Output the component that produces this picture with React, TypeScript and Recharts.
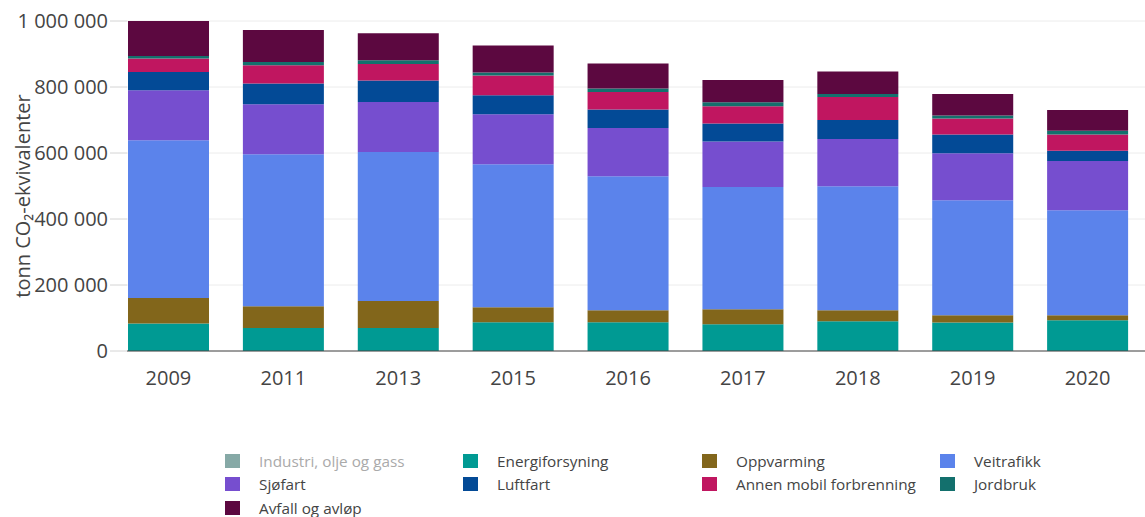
import { BarChart, Bar, XAxis, YAxis, CartesianGrid } from 'recharts'

const years = ['2009', '2011', '2013', '2015', '2016', '2017', '2018', '2019', '2020']

const energiforsyning = [83000, 69700, 69700, 87000, 87000, 81000, 90000, 86100, 93000]
const oppvarming = [77600, 65800, 81800, 45400, 36300, 45400, 33300, 22100, 15200]
const veitrafikk = [478000, 460500, 451500, 433400, 406100, 370600, 375700, 348500, 318200]
const sjofart = [151500, 151600, 151500, 151500, 146400, 137500, 143400, 142400, 149400]
const luftfart = [55500, 62700, 64900, 57500, 55700, 54600, 57600, 56700, 31200]
const annenMobil = [40500, 55500, 50300, 59700, 53300, 52400, 69700, 48400, 49400]
const jordbruk = [8000, 10000, 11300, 9100, 10400, 12100, 9100, 9100, 11200]
const avfall = [105900, 97000, 81700, 81900, 75700, 67600, 67900, 65500, 62700]

const yTicks = [0, 200000, 400000, 600000, 800000, 1000000]

// legend order (row by row), industri is toggled off in the original
const series = [
  { key: 'industri', name: 'Industri, olje og gass', color: '#86a9a6', hidden: true, values: [] as number[] },
  { key: 'energi', name: 'Energiforsyning', color: '#009a93', values: energiforsyning },
  { key: 'oppvarming', name: 'Oppvarming', color: '#82661b', values: oppvarming },
  { key: 'veitrafikk', name: 'Veitrafikk', color: '#5b83eb', values: veitrafikk },
  { key: 'sjofart', name: 'Sjøfart', color: '#764ecf', values: sjofart },
  { key: 'luftfart', name: 'Luftfart', color: '#034a96', values: luftfart },
  { key: 'annen', name: 'Annen mobil forbrenning', color: '#c01660', values: annenMobil },
  { key: 'jordbruk', name: 'Jordbruk', color: '#13706d', values: jordbruk },
  { key: 'avfall', name: 'Avfall og avløp', color: '#5c0840', values: avfall },
]

const data = years.map((year, i) => {
  const row: Record<string, string | number | null> = { year }
  series.forEach((s) => {
    row[s.key] = s.hidden ? null : s.values[i]
  })
  return row
})

const fmt = (v: number) => String(v).replace(/\B(?=(\d{3})+(?!\d))/g, ' ')

const font = '"Open Sans", sans-serif'

export default function App() {
  return (
    <div
      style={{
        position: 'absolute',
        left: 0,
        top: 0,
        width: 1145,
        height: 517,
        background: '#fff',
        fontFamily: font,
      }}
    >
      <BarChart
        width={1145}
        height={517}
        data={data}
        margin={{ top: 21, right: 0, left: 0, bottom: 126 }}
      >
        <CartesianGrid vertical={false} stroke="#ececec" />
        <XAxis
          dataKey="year"
          height={40}
          padding={{ left: -16, right: 0 }}
          axisLine={{ stroke: '#444' }}
          tickLine={false}
          tickSize={0}
          tickMargin={20}
          tick={{ fontSize: 20, fill: '#444', fontFamily: font }}
        />
        <YAxis
          width={127}
          domain={[0, 1000000]}
          allowDataOverflow
          ticks={yTicks}
          tickFormatter={fmt}
          axisLine={false}
          tickLine={{ stroke: '#d4d4d4' }}
          tickSize={17}
          tickMargin={2}
          tick={{ fontSize: 20, fill: '#444', fontFamily: font }}
          label={{
            content: ({ viewBox }: any) => {
              const cy = viewBox.y + viewBox.height / 2 + 10
              return (
                <text
                  x={22}
                  y={cy}
                  transform={`rotate(-90, 22, ${cy})`}
                  textAnchor="middle"
                  dominantBaseline="central"
                  fontSize={20}
                  fill="#444"
                  fontFamily={font}
                >
                  tonn CO₂-ekvivalenter
                </text>
              )
            },
          }}
        />
        {series.map((s) => (
          <Bar
            key={s.key}
            dataKey={s.key}
            name={s.name}
            stackId="a"
            fill={s.color}
            barSize={81}
            hide={s.hidden}
            isAnimationActive={false}
          />
        ))}
      </BarChart>

      <div
        style={{
          position: 'absolute',
          left: 225,
          top: 449,
          display: 'grid',
          gridTemplateColumns: '238px 239px 238px 200px',
          rowGap: 0,
        }}
      >
        {series.map((s) => (
          <div
            key={s.key}
            style={{ display: 'flex', alignItems: 'center', height: 23.5 }}
          >
            <div style={{ width: 15, height: 14, background: s.color, marginRight: 19 }} />
            <span style={{ fontSize: 15.3, color: s.hidden ? '#aaa' : '#444', whiteSpace: 'nowrap' }}>
              {s.name}
            </span>
          </div>
        ))}
      </div>
    </div>
  )
}
